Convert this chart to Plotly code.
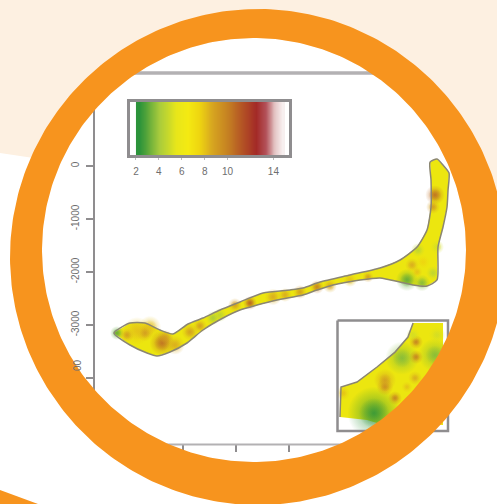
import numpy as np
import plotly.graph_objects as go

W, H = 497, 504

# ---- data (metres) ----
band_x = [-302,0,283,566,811,1094,1377,1698,2075,2510,3019,3264,3585,4151,4717,5095,5416,5604,5680,5680,5661,5793,5906,6020,6001,5982,5906,5812,5793,5604,5340,5095,4717,4340,3830,3529,3264,2774,2396,2075,1755,1377,1076,755,509,321,0,-302]
band_y = [-3151,-2963,-2963,-3095,-3170,-2981,-2868,-2717,-2566,-2396,-2340,-2302,-2189,-2057,-1925,-1774,-1528,-1208,-774,-264,75,132,19,-132,-453,-774,-1151,-1528,-2151,-2264,-2245,-2189,-2113,-2151,-2245,-2340,-2434,-2528,-2623,-2717,-2868,-3095,-3340,-3510,-3585,-3529,-3378,-3151]
spot_x = [132,377,-245,-57,283,604,660,849,1132,1321,1566,1698,1981,2264,2698,2925,3208,3529,3774,4151,4491,5755,5718,5227,5510,5718,5435,5793,5321,5416,5529]
spot_y = [-3114,-3038,-3151,-3189,-3151,-3340,-3246,-3378,-3132,-3019,-2868,-2812,-2623,-2585,-2472,-2434,-2377,-2283,-2264,-2151,-2095,-547,-774,-2151,-2208,-2019,-1585,-1528,-1868,-2000,-1811]
spot_value = [8,8,3,9,9,10.5,9,8.5,9,9,4,4.5,9,11,8.5,8.5,9,10,8.5,8,9,10.5,9,3,3.5,4.5,4.5,5,8.5,8,7.5]
spot_extent = [10,8,5,5,6,9,6,7,6,5,5,5,5,5,6,5,5,5,5,5,4,7,5,8,6,5,5,5,5,4,5]

inset_x = [5655,5619,5528,5401,5260,5147,5140,5330,5401,5866,5866,5655]
inset_y = [-1498,-1597,-1703,-1808,-1914,-1949,-2161,-2182,-2203,-2217,-1498,-1498]
inset_spot_x = [5380,5577,5810,5824,5457,5457,5528,5676,5676,5669,5612,5161,5655]
inset_spot_y = [-2133,-1745,-1724,-1583,-1900,-1949,-2027,-1632,-1738,-1886,-1949,-1992,-1583]
inset_spot_value = [2.3,3.5,3.5,5,9,9.5,10,10,10,8.5,8,8,5]
inset_spot_extent = [19,12,12,6,8,6,5,5,5,5,4,5,5]

legend_levels = [2.25,2.75,3.25,3.75,4.25,4.75,5.25,5.75,6.25,6.75,7.25,7.75,8.25,8.75,9.25,9.75,10.25,10.75,11.25,11.75,12.25,12.75,13.25,13.75,14.25,14.75]
legend_ticks = [2,4,6,8,10,14]
y_ticks = [0,-1000,-2000,-3000,-4000]
y_labels = ["0","-1000","-2000","-3000",""]
x_ticks = [1000,2000,3000]

# ---- colours ----
ORANGE = "#F7941E"
CREAM = "#FDF0E1"
AXIS = "#8f8d8f"
TEXT = "#6e6e6e"
stop_v = [2,3,4,5.5,6.5,7.5,8.5,10,11.5,12.5,13.3,14,15]
stop_c = ["#1a8c3a","#5da83a","#a8cb3c","#e8e61a","#f4ea12","#eed510","#d9aa1f","#c47f22","#b04a25","#a32a27","#b3525a","#e0bdbd","#ffffff"]
def rgb(h): return [int(h[i:i+2],16) for i in (1,3,5)]
stop_rgb = np.array([rgb(c) for c in stop_c],float)
def col(v,a=1):
    r,g,b = (np.interp(v,stop_v,stop_rgb[:,i]) for i in range(3))
    return f"rgba({r:.0f},{g:.0f},{b:.0f},{a})"
scale = [[(v-2)/13,c] for v,c in zip(stop_v,stop_c)]

def px_x(p): return p/W
def px_y(p): return 1-p/H

def blobs(x,y,val,ext,xa,ya,k):
    # radial gradient: gradient.color is the centre colour, marker.color the rim
    return go.Scatter(x=x,y=y,xaxis=xa,yaxis=ya,mode="markers",cliponaxis=True,
        marker=dict(size=[k*e for e in ext],color=[col(v,0) for v in val],line_width=0,
                    gradient=dict(type="radial",color=[col(v) for v in val])))

fig = go.Figure()
# main map
fig.add_trace(go.Scatter(x=band_x,y=band_y,mode="lines",fill="toself",fillcolor="#ece60f",line=dict(color="rgba(0,0,0,0)",width=0)))
fig.add_trace(blobs(spot_x,spot_y,spot_value,spot_extent,"x","y",2.8))
fig.add_trace(blobs(spot_x,spot_y,spot_value,spot_extent,"x","y",1.8))
fig.add_trace(go.Scatter(x=band_x,y=band_y,mode="lines",line=dict(color="#8b8672",width=1.5,shape="spline",smoothing=0.6)))
# legend strip
fig.add_trace(go.Heatmap(x=legend_levels,y=[0,1],z=[legend_levels,legend_levels],xaxis="x2",yaxis="y2",colorscale=scale,zmin=2,zmax=15,showscale=False,zsmooth="best"))
# inset
fig.add_trace(go.Scatter(x=inset_x,y=inset_y,xaxis="x3",yaxis="y3",mode="lines",fill="toself",fillcolor="#ece60f",line=dict(color="rgba(0,0,0,0)",width=0)))
fig.add_trace(blobs(inset_spot_x,inset_spot_y,inset_spot_value,inset_spot_extent,"x3","y3",2.8))
fig.add_trace(blobs(inset_spot_x,inset_spot_y,inset_spot_value,inset_spot_extent,"x3","y3",1.6))
fig.add_trace(go.Scatter(x=inset_x[:7],y=inset_y[:7],xaxis="x3",yaxis="y3",mode="lines",line=dict(color="#8b8672",width=1.5)))

# frames on the full-page overlay, under the ring
fig.add_trace(go.Scatter(x=[94,94],y=[100,400],xaxis="x4",yaxis="y4",mode="lines",line=dict(color=AXIS,width=2)))
fig.add_trace(go.Scatter(x=[115,400],y=[73,73],xaxis="x4",yaxis="y4",mode="lines",line=dict(color="#b3b1b3",width=3.5)))
fig.add_trace(go.Scatter(x=[145,365],y=[444.5,444.5],xaxis="x4",yaxis="y4",mode="lines",line=dict(color="#b3b1b3",width=2)))
fig.add_trace(go.Scatter(x=[337.5,448,448,337.5,337.5],y=[320.5,320.5,431,431,320.5],xaxis="x4",yaxis="y4",mode="lines",line=dict(color=AXIS,width=2.5)))
# ring
t = np.linspace(0,2*np.pi,360)
ox, oy = 258+248*np.cos(t), 257+248*np.sin(t)
ix, iy = 254+212*np.cos(t[::-1]), 250+212*np.sin(t[::-1])
ring_x = np.concatenate([ox,ix,ox[:1]])
ring_y = np.concatenate([oy,iy,oy[:1]])
fig.add_trace(go.Scatter(x=ring_x,y=ring_y,xaxis="x4",yaxis="y4",mode="lines",fill="toself",fillcolor=ORANGE,line=dict(width=0,color=ORANGE)))

def circle_path(cx,cy,r):
    pts = [f"{px_x(cx+r*np.cos(a)):.5f},{px_y(cy+r*np.sin(a)):.5f}" for a in t[:-1]]
    return "M"+" L".join(pts)+" Z"
def poly(pts): return "M"+" L".join(f"{px_x(a):.5f},{px_y(b):.5f}" for a,b in pts)+" Z"

shapes = [
    dict(type="path",xref="paper",yref="paper",layer="below",path=poly([(0,153),(W,227),(W,H),(0,H)]),fillcolor="white",line_width=0),
    dict(type="path",xref="paper",yref="paper",layer="below",path=circle_path(254,250,212),fillcolor="white",line_width=0),
    dict(type="path",xref="paper",yref="paper",layer="below",path=poly([(0,490),(38,504),(0,504)]),fillcolor=ORANGE,line_width=0),
]

tickfont = dict(family="Liberation Sans",size=10,color=TEXT)
fig.update_layout(
    width=W,height=H,margin=dict(l=0,r=0,t=0,b=0),autosize=False,showlegend=False,hovermode=False,
    paper_bgcolor=CREAM,plot_bgcolor="rgba(0,0,0,0)",shapes=shapes,
    annotations=[dict(text="00",xref="paper",yref="paper",x=px_x(77),y=px_y(365),xanchor="center",yanchor="middle",textangle=-90,showarrow=False,
                      font=dict(family="Liberation Sans",size=10,color=TEXT))],
    xaxis=dict(domain=[px_x(94),px_x(480)],range=[-679,6604],showgrid=False,zeroline=False,showline=False,
               tickvals=x_ticks,ticktext=["","",""],ticks="outside",ticklen=7,tickwidth=1.5,tickcolor=AXIS,tickfont=tickfont,anchor="y"),
    yaxis=dict(domain=[px_y(444),px_y(73)],range=[-5246,1755],showgrid=False,zeroline=False,showline=False,
               tickvals=y_ticks,ticktext=y_labels,ticks="outside",ticklen=7,tickwidth=1.5,tickcolor=AXIS,tickangle=-90,ticklabelstandoff=3,tickfont=tickfont,anchor="x"),
    xaxis2=dict(domain=[px_x(130),px_x(289)],range=[1.48,15.36],showgrid=False,zeroline=False,showline=True,mirror=True,
                linecolor=AXIS,linewidth=2.5,tickvals=legend_ticks,ticks="outside",ticklen=2,tickwidth=1,tickcolor="#bbbbbb",ticklabelstandoff=3,tickfont=tickfont,anchor="y2"),
    yaxis2=dict(domain=[px_y(155),px_y(102)],range=[0,1],showgrid=False,zeroline=False,showline=True,mirror=True,
                linecolor=AXIS,linewidth=2.5,showticklabels=False,ticks="",anchor="x2"),
    xaxis3=dict(domain=[px_x(338),px_x(447)],range=[5133-7.05,5887+7.05],showgrid=False,zeroline=False,showline=False,
                showticklabels=False,ticks="",anchor="y3"),
    yaxis3=dict(domain=[px_y(430),px_y(321)],range=[-2245-7.05,-1491+7.05],showgrid=False,zeroline=False,showline=False,
                showticklabels=False,ticks="",anchor="x3"),
    xaxis4=dict(domain=[0,1],range=[0,W],visible=False,anchor="y4"),
    yaxis4=dict(domain=[0,1],range=[H,0],visible=False,anchor="x4"),
)
fig.write_html("out.html",post_script="document.body.style.margin='0';document.documentElement.style.overflow='hidden';",config={"displayModeBar":False})
